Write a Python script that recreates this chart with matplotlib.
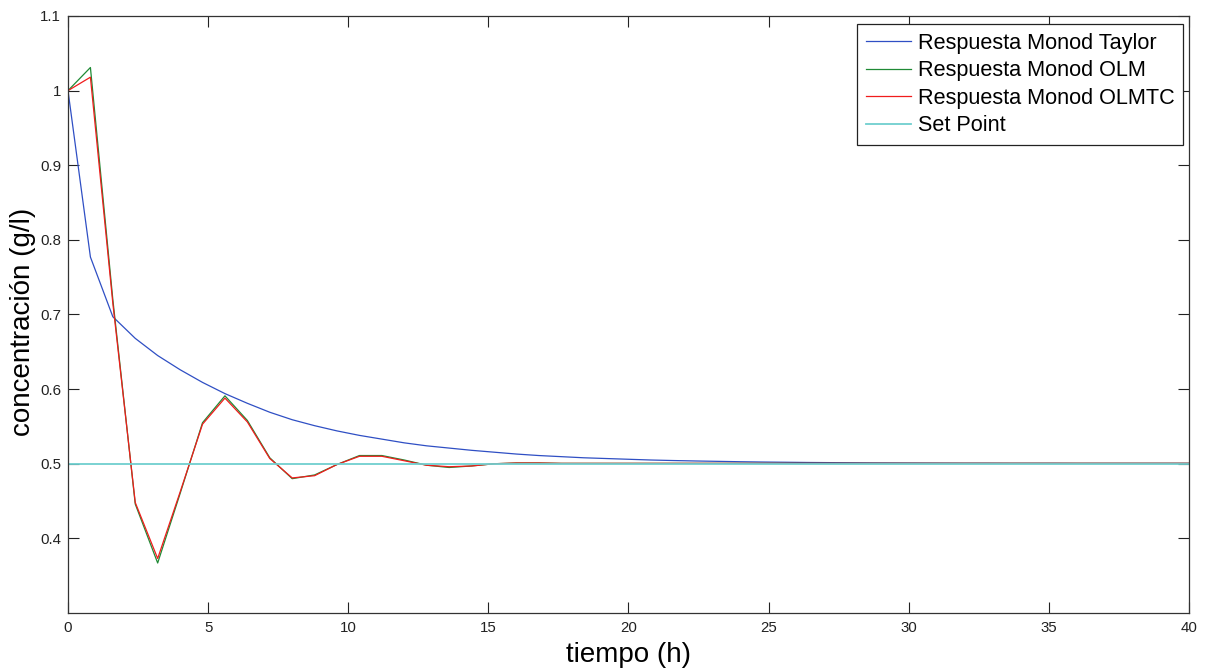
import numpy as np
import matplotlib
matplotlib.use("Agg")
import matplotlib.pyplot as plt

# time samples (h), step 0.8 from 0 to 40
t = np.arange(51) * 0.8

taylor = [1.000, 0.777, 0.697, 0.668, 0.645, 0.626, 0.609, 0.594, 0.581, 0.569,
          0.559, 0.551, 0.544, 0.538, 0.533, 0.528, 0.524, 0.521, 0.518, 0.5155,
          0.513, 0.511, 0.5095, 0.508, 0.507, 0.506, 0.505, 0.5043, 0.5037, 0.5032,
          0.5027, 0.5023, 0.502, 0.5017, 0.5015, 0.5013, 0.5011, 0.501, 0.5009, 0.5008,
          0.5007, 0.5007, 0.5006, 0.5006, 0.5006, 0.5005, 0.5005, 0.5005, 0.5005, 0.5005,
          0.5005]

olm = [1.000, 1.031, 0.720, 0.446, 0.367, 0.460, 0.555, 0.591, 0.558, 0.508,
       0.480, 0.485, 0.499, 0.511, 0.511, 0.505, 0.498, 0.495, 0.497, 0.500,
       0.501, 0.501] + [0.5005] * 29

olmtc = [1.000, 1.018, 0.715, 0.448, 0.373, 0.462, 0.553, 0.588, 0.556, 0.507,
         0.481, 0.484, 0.499, 0.510, 0.510, 0.504, 0.498, 0.496, 0.497, 0.500,
         0.501, 0.501] + [0.5005] * 29

setpoint = [0.5] * 51

labels = ["Respuesta Monod Taylor", "Respuesta Monod OLM",
          "Respuesta Monod OLMTC", "Set Point"]

yticks = [0.4, 0.5, 0.6, 0.7, 0.8, 0.9, 1.0, 1.1]
yticklabels = ["0.4", "0.5", "0.6", "0.7", "0.8", "0.9", "1", "1.1"]
xticks = [0, 5, 10, 15, 20, 25, 30, 35, 40]

plt.rcParams['font.family'] = ['Liberation Sans', 'DejaVu Sans']

fig = plt.figure(figsize=(12.09, 6.71), dpi=100)
ax = fig.add_axes([0.05624, 0.08644, 0.92722, 0.88972])

lw = 0.9
ax.plot(t, taylor, color='#2f4fc4', lw=lw, label=labels[0])
ax.plot(t, olm, color='#1f8a35', lw=lw, label=labels[1])
ax.plot(t, olmtc, color='#f01c1c', lw=lw, label=labels[2])
ax.plot(t, setpoint, color='#6fcfcf', lw=1.3, label=labels[3])

ax.set_xlim(0, 40)
ax.set_ylim(0.3, 1.1)
ax.set_xticks(xticks)
ax.set_yticks(yticks)
ax.set_yticklabels(yticklabels)
ax.tick_params(direction='in', length=8, width=0.8, color='#222222',
               labelsize=10.8, labelcolor='#222222', top=True, right=True)
ax.tick_params(axis='y', pad=5)
ax.tick_params(axis='x', pad=6)
for s in ax.spines.values():
    s.set_linewidth(0.9)
    s.set_color('#333333')

ax.set_xlabel("tiempo (h)", fontsize=20)
ax.xaxis.set_label_coords(0.5, -0.048)
ax.set_ylabel("concentración (g/l)", fontsize=20)
ax.yaxis.set_label_coords(-0.0285, 0.488)

leg = ax.legend(loc='upper right', bbox_to_anchor=(0.9946, 0.9866),
                borderaxespad=0, fontsize=15.6, handlelength=2.1,
                handletextpad=0.3, labelspacing=0.3, borderpad=0.4,
                fancybox=False, framealpha=1)
leg.get_frame().set_edgecolor('#222222')
leg.get_frame().set_linewidth(0.9)

fig.savefig("out.png", dpi=100)
